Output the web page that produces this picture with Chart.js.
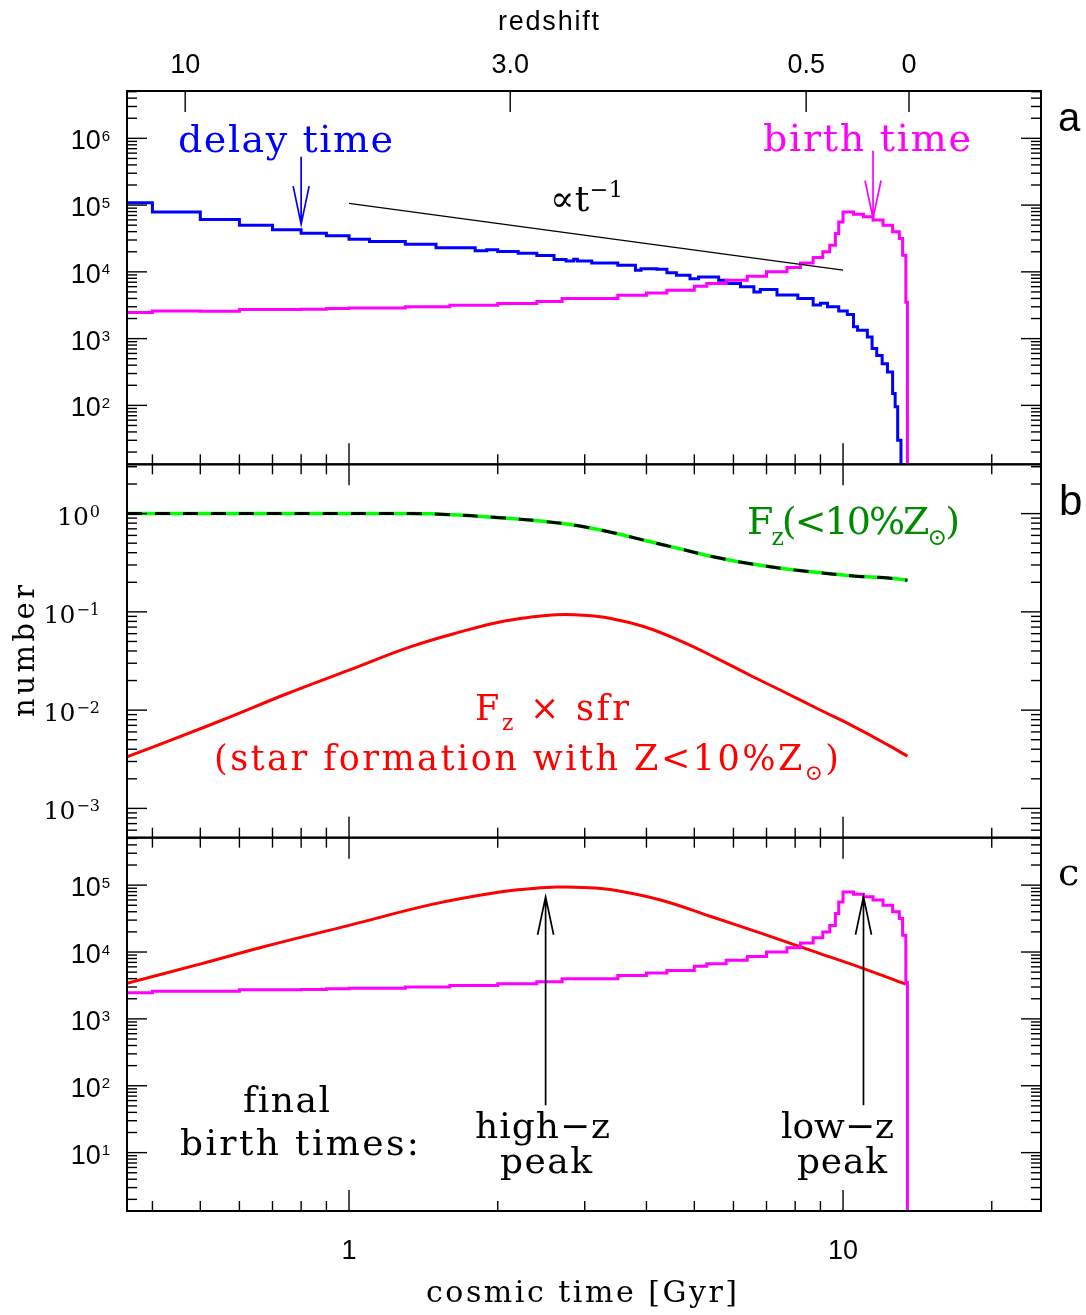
<!DOCTYPE html>
<html>
<head>
<meta charset="utf-8">
<script src="https://cdn.jsdelivr.net/npm/chart.js"></script>
<style>
html,body{margin:0;padding:0;background:#fff;}
#wrap{position:relative;width:1086px;height:1315px;background:#fff;}
canvas{display:block;}
</style>
</head>
<body>
<div id="wrap"><canvas id="c" width="1086" height="1315"></canvas></div>
<script>
// ---------------- data ----------------
// panel a: delay-time histogram (bin edges in Gyr, counts per bin)
const delayEdges = [0.355,0.40,0.50,0.60,0.70,0.80,0.90,1.0,1.1,1.3,1.5,1.8,1.9,2.0,2.2,2.4,2.6,2.75,2.85,2.9,3.1,3.5,3.8,3.9,4.2,4.4,4.6,4.9,5.1,5.6,5.8,6.2,6.6,6.8,7.35,8.1,8.7,9.0,9.3,9.8,10.2,10.5,10.7,11.2,11.45,11.7,12.0,12.3,12.6,12.75,12.9,13.1,13.2];
const delayCounts = [1.08e5,7.9e4,6.1e4,5.0e4,4.27e4,3.8e4,3.47e4,3.09e4,2.85e4,2.6e4,2.29e4,2.07e4,2.14e4,2.02e4,1.9e4,1.76e4,1.53e4,1.45e4,1.55e4,1.45e4,1.36e4,1.26e4,1.06e4,1.11e4,1.09e4,9.7e3,8.9e3,7.9e3,8.4e3,7.5e3,6.7e3,6.0e3,5.0e3,5.45e3,4.5e3,4.0e3,3.2e3,3.4e3,3.0e3,2.6e3,2.3e3,1.5e3,1.33e3,1.06e3,710,560,420,316,150,95,30,0.1];
// panels a and c: birth-time histogram
const birthEdges = [0.355,0.40,0.50,0.60,0.80,0.90,1.0,1.3,1.6,2.0,2.4,2.7,3.5,4.0,4.4,5.0,5.3,5.8,6.4,7.0,7.7,8.2,8.7,9.1,9.4,9.65,9.8,10.0,10.5,11.0,11.5,12.05,12.6,13.0,13.2,13.4,13.5,13.6];
const birthCounts = [2.46e3,2.6e3,2.58e3,2.73e3,2.76e3,2.82e3,2.88e3,2.99e3,3.16e3,3.36e3,3.6e3,4.0e3,4.47e3,4.84e3,5.3e3,6.1e3,6.7e3,7.5e3,8.6e3,1.0e4,1.16e4,1.36e4,1.64e4,2.0e4,2.5e4,3.77e4,5.6e4,7.9e4,7.3e4,6.7e4,6.0e4,5.0e4,4.0e4,3.16e4,1.78e4,3.5e3,0.1];
// panel a: reference slope  ∝ t^-1
const slopeT = [1, 10];
const slopeN = [1.06e5, 1.06e4];
// panel b: F_z(<10% Zsun)
const fzT = [0.355,1.0,1.33,1.57,2.02,2.44,2.87,3.37,3.96,4.66,5.49,6.45,7.6,8.93,10.5,12.35,13.5];
const fzV = [1.0,1.0,1.0,0.98,0.91,0.84,0.76,0.65,0.535,0.44,0.362,0.31,0.275,0.251,0.232,0.221,0.21];
// panel b: F_z x sfr
const fsfrT = [0.355,0.452,0.58,0.744,1.0,1.33,1.71,2.02,2.36,2.63,2.98,3.37,3.96,4.66,5.49,6.45,7.6,8.93,10.5,12.35,13.5];
const fsfrV = [0.00334,0.0053,0.0087,0.0145,0.0255,0.044,0.064,0.079,0.089,0.0935,0.0925,0.0862,0.0705,0.0513,0.0347,0.0229,0.0153,0.0102,0.00684,0.0044,0.0034];
// panel c: F_z x sfr in numbers
const sfrCT = [0.355,0.499,0.681,1.0,1.48,2.02,2.36,2.63,2.98,3.38,4.27,5.4,6.84,8.66,10.9,13.4];
const sfrCV = [3.4e3,6.6e3,1.23e4,2.5e4,5.2e4,7.9e4,8.9e4,9.35e4,9.25e4,8.6e4,6.0e4,3.4e4,1.9e4,1.04e4,5.8e3,3.3e3];
// arrows: panel, time, tail value, tip value, colour
const arrowPanel = ['ya','ya','yc','yc'];
const arrowT     = [0.8, 11.5, 2.5, 11.0];
const arrowFrom  = [5.3e5, 6.5e5, 51, 51];
const arrowTo    = [5.2e4, 6.3e4, 6.7e4, 6.7e4];
const arrowColor = ['#0000ff','#ff00ff','#000000','#000000'];
// tick labels
const timeTickVals = [1, 10];
const timeTickLabels = ['1', '10'];
const zLabels = ['10', '3.0', '0.5', '0'];
const zTimes  = [0.466, 2.12, 8.42, 13.6];
const expA = [2,3,4,5,6];
const expB = [0,-1,-2,-3];
const expC = [1,2,3,4,5];

// ---------------- helpers ----------------
const SERIF = "'DejaVu Serif','Liberation Serif',serif";
const SANS  = "'Liberation Sans','DejaVu Sans',sans-serif";
function pts(xs, ys){ return xs.map((x,i)=>({x:x, y:ys[i]})); }
function histPts(edges, counts){
  const p = counts.map((c,i)=>({x:edges[i], y:c}));
  p.push({x:edges[edges.length-1], y:counts[counts.length-1]});
  return p;
}
function richText(ctx, runs, x, y, o){
  const chars = [];
  for (const r of runs){
    const sz = (r.sub||r.sup) ? o.size*(o.subScale||0.62) : o.size;
    const dy = r.sub ? o.size*(o.subDy||0.28) : (r.sup ? -o.size*(o.supDy||0.42) : 0);
    for (const ch of Array.from(r.s)){
      ctx.font = sz + 'px ' + o.family;
      chars.push({ch:ch, sz:sz, dy:dy, w:ctx.measureText(ch).width});
    }
  }
  const nat = chars.reduce((a,c)=>a+c.w,0);
  const total = o.width || nat;
  const gap = (o.width && chars.length>1) ? (total-nat)/(chars.length-1) : 0;
  let cx = o.align==='center' ? x-total/2 : (o.align==='right' ? x-total : x);
  ctx.fillStyle = o.color || '#000';
  ctx.textBaseline = 'alphabetic';
  ctx.textAlign = 'left';
  for (const c of chars){
    ctx.font = c.sz + 'px ' + o.family;
    ctx.fillText(c.ch, cx, y + c.dy);
    cx += c.w + gap;
  }
}
function line(ctx, x0, y0, x1, y1){ ctx.beginPath(); ctx.moveTo(x0,y0); ctx.lineTo(x1,y1); ctx.stroke(); }

// ---------------- custom frame / ticks / text plugin ----------------
const decor = {
  id: 'decor',
  afterDraw(chart){
    const ctx = chart.ctx;
    const xs = chart.scales.x;
    const L = chart.chartArea.left, R = chart.chartArea.right;
    const panels = [chart.scales.ya, chart.scales.yb, chart.scales.yc];
    ctx.save();
    ctx.strokeStyle = '#000';
    ctx.lineCap = 'butt';
    panels.forEach((s, pi) => {
      ctx.lineWidth = 1.4;
      const k0 = Math.floor(Math.log10(s.min)), k1 = Math.ceil(Math.log10(s.max));
      for (let k=k0;k<=k1;k++){
        for (let m=1;m<=9;m++){
          const v = m*Math.pow(10,k);
          if (v < s.min || v > s.max) continue;
          const py = s.getPixelForValue(v);
          const len = m===1 ? 20 : 10;
          line(ctx, L, py, L+len, py);
          line(ctx, R, py, R-len, py);
        }
      }
      for (let k=-1;k<=1;k++){
        for (let m=1;m<=9;m++){
          const v = m*Math.pow(10,k);
          if (v < xs.min || v > xs.max) continue;
          const px = xs.getPixelForValue(v);
          const len = m===1 ? 21 : 10;
          line(ctx, px, s.bottom, px, s.bottom-len);
          if (pi>0) line(ctx, px, s.top, px, s.top+len);
        }
      }
      ctx.lineWidth = 2;
      ctx.strokeRect(L, s.top, R-L, s.bottom-s.top);
    });
    const sa = chart.scales.ya;
    ctx.lineWidth = 1.4;
    zTimes.forEach(t => { const px = xs.getPixelForValue(t); line(ctx, px, sa.top, px, sa.top+21); });

    const drawExpLabels = (s, exps, family, rightX, size, supSize, supRise) => {
      exps.forEach(e => {
        const py = s.getPixelForValue(Math.pow(10,e));
        const base = py + 11;
        const supTxt = (e<0 ? '\u2212' : '') + Math.abs(e);
        ctx.font = supSize + 'px ' + family;
        const ws = ctx.measureText(supTxt).width;
        ctx.font = size + 'px ' + family;
        const wm = ctx.measureText('10').width;
        ctx.fillStyle = '#000'; ctx.textAlign='left'; ctx.textBaseline='alphabetic';
        ctx.fillText('10', rightX - ws - wm - 1, base);
        ctx.font = supSize + 'px ' + family;
        ctx.fillText(supTxt, rightX - ws, base - supRise);
      });
    };
    drawExpLabels(chart.scales.ya, expA, SANS, 110, 27, 15, 8.5);
    drawExpLabels(chart.scales.yb, expB, SERIF, 100, 25, 16, 8);
    drawExpLabels(chart.scales.yc, expC, SANS, 110, 27, 15, 8.5);

    ctx.fillStyle = '#000'; ctx.textAlign='center'; ctx.textBaseline='alphabetic';
    ctx.font = '27px ' + SANS;
    timeTickVals.forEach((v,i) => ctx.fillText(timeTickLabels[i], xs.getPixelForValue(v), 1259));
    zTimes.forEach((t,i) => ctx.fillText(zLabels[i], xs.getPixelForValue(t), 73));
    richText(ctx, [{s:'redshift'}], 498, 30, {size:27, family:SANS, width:101});

    richText(ctx, [{s:'cosmic time [Gyr]'}], 426, 1302, {size:30, family:SERIF, width:311});
    ctx.save();
    ctx.translate(34, 651);
    ctx.rotate(-Math.PI/2);
    richText(ctx, [{s:'number'}], 0, 0, {size:29, family:SERIF, width:132, align:'center'});
    ctx.restore();

    richText(ctx, [{s:'a'}], 1058, 131, {size:40, family:SANS});
    richText(ctx, [{s:'b'}], 1059, 515, {size:42, family:SANS});
    richText(ctx, [{s:'c'}], 1058, 885, {size:38, family:SERIF});

    richText(ctx, [{s:'delay time'}], 178, 152, {size:38, family:SERIF, width:215, color:'#0000ff'});
    richText(ctx, [{s:'birth time'}], 763, 151, {size:38, family:SERIF, width:208, color:'#ff00ff'});
    richText(ctx, [{s:'\u221Dt'},{s:'\u22121', sup:true}], 550, 211, {size:36, family:SERIF, width:73, supDy:0.38});
    richText(ctx, [{s:'F'},{s:'z',sub:true},{s:'(<10%Z'},{s:'\u2299',sub:true},{s:')'}], 747, 534, {size:38, family:SERIF, width:213, color:'#008a00'});
    richText(ctx, [{s:'F'},{s:'z',sub:true},{s:' \u00D7 sfr'}], 475, 720, {size:35, family:SERIF, width:154, color:'#ff0000'});
    richText(ctx, [{s:'(star formation with Z<10%Z'},{s:'\u2299',sub:true},{s:')'}], 214, 770, {size:35, family:SERIF, width:625, color:'#ff0000'});
    richText(ctx, [{s:'final'}], 243, 1112, {size:36, family:SERIF, width:87});
    richText(ctx, [{s:'birth times:'}], 180, 1155, {size:36, family:SERIF, width:239});
    richText(ctx, [{s:'high\u2212z'}], 475, 1138, {size:36, family:SERIF, width:135});
    richText(ctx, [{s:'peak'}], 500, 1173, {size:36, family:SERIF, width:92});
    richText(ctx, [{s:'low\u2212z'}], 781, 1138, {size:36, family:SERIF, width:113});
    richText(ctx, [{s:'peak'}], 797, 1173, {size:36, family:SERIF, width:90});

    arrowT.forEach((t,i) => {
      const ys = chart.scales[arrowPanel[i]];
      const px = xs.getPixelForValue(t);
      const y0 = ys.getPixelForValue(arrowFrom[i]);
      const y1 = ys.getPixelForValue(arrowTo[i]);
      const dir = Math.sign(y1-y0);
      ctx.strokeStyle = arrowColor[i];
      ctx.lineWidth = 1.7;
      ctx.beginPath();
      ctx.moveTo(px, y0); ctx.lineTo(px, y1);
      ctx.moveTo(px-8, y1-dir*38); ctx.lineTo(px, y1); ctx.lineTo(px+8, y1-dir*38);
      ctx.stroke();
    });
    ctx.restore();
  }
};

// ---------------- chart ----------------
const hidden = {
  grid:{display:false, drawTicks:false},
  border:{display:false},
  ticks:{display:false},
  title:{display:false}
};
// Chart.js paints the first dataset last (on top), so the list runs top -> bottom
const chart = new Chart(document.getElementById('c'), {
  type: 'line',
  data: {
    datasets: [
      {label:'t^-1', data:pts(slopeT, slopeN), yAxisID:'ya', borderColor:'#000000', borderWidth:1.3, pointRadius:0, fill:false},
      {label:'birth time', data:histPts(birthEdges, birthCounts), yAxisID:'ya', borderColor:'#ff00ff', borderWidth:3, stepped:'before', pointRadius:0, fill:false, borderJoinStyle:'miter'},
      {label:'delay time', data:histPts(delayEdges, delayCounts), yAxisID:'ya', borderColor:'#0000ff', borderWidth:3, stepped:'before', pointRadius:0, fill:false, borderJoinStyle:'miter'},
      {label:'Fz dash', data:pts(fzT, fzV), yAxisID:'yb', borderColor:'#000000', borderWidth:3, borderDash:[15,13], pointRadius:0, fill:false, tension:0.4},
      {label:'Fz green', data:pts(fzT, fzV), yAxisID:'yb', borderColor:'#00ff00', borderWidth:3.5, pointRadius:0, fill:false, tension:0.4},
      {label:'Fz x sfr', data:pts(fsfrT, fsfrV), yAxisID:'yb', borderColor:'#ff0000', borderWidth:3, pointRadius:0, fill:false, tension:0.4},
      {label:'birth c', data:histPts(birthEdges, birthCounts), yAxisID:'yc', borderColor:'#ff00ff', borderWidth:3, stepped:'before', pointRadius:0, fill:false, borderJoinStyle:'miter'},
      {label:'sfr c', data:pts(sfrCT, sfrCV), yAxisID:'yc', borderColor:'#ff0000', borderWidth:3, pointRadius:0, fill:false, tension:0.4}
    ]
  },
  options: {
    responsive:false,
    animation:false,
    devicePixelRatio:1,
    layout:{padding:{left:127, right:45, top:91, bottom:104}},
    plugins:{legend:{display:false}, tooltip:{enabled:false}, title:{display:false}},
    events:[],
    scales:{
      x:  Object.assign({type:'logarithmic', position:'bottom', min:0.3553, max:25.16, afterFit(s){s.height=0;}}, hidden),
      ya: Object.assign({type:'logarithmic', position:'left', stack:'panels', stackWeight:1, weight:3, min:13.09, max:5.117e6, afterFit(s){s.width=0;}}, hidden),
      yb: Object.assign({type:'logarithmic', position:'left', stack:'panels', stackWeight:1, weight:2, min:5.035e-4, max:3.173, afterFit(s){s.width=0;}}, hidden),
      yc: Object.assign({type:'logarithmic', position:'left', stack:'panels', stackWeight:1, weight:1, min:1.340, max:5.129e5, afterFit(s){s.width=0;}}, hidden)
    }
  },
  plugins:[decor]
});
</script>
</body>
</html>
